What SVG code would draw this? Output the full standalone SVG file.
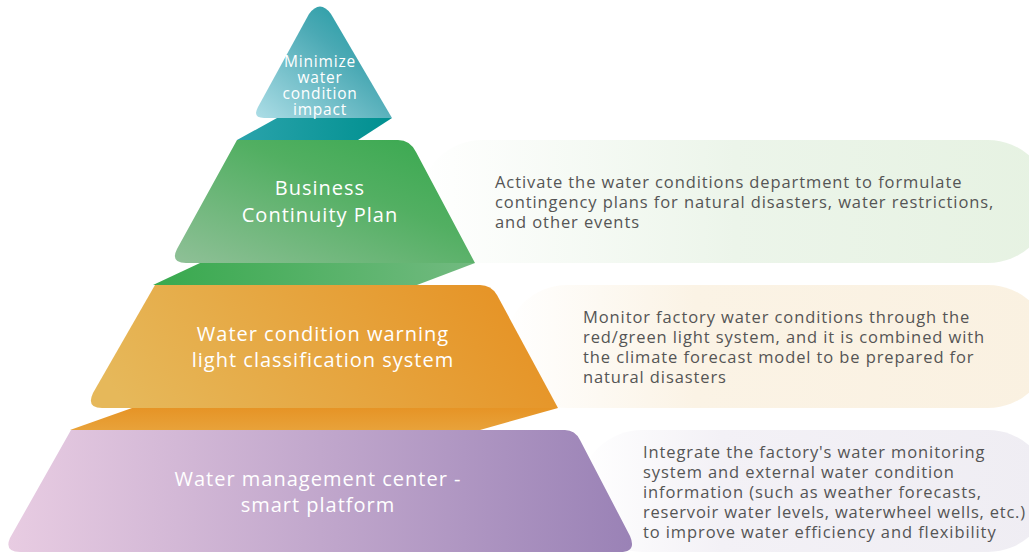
<svg xmlns="http://www.w3.org/2000/svg" width="1029" height="552" viewBox="0 0 1029 552">
<defs>
<linearGradient id="gTeal" x1="0" y1="1" x2="1" y2="0"><stop offset="0" stop-color="#acdde6"/><stop offset="0.6" stop-color="#4aa9b4"/><stop offset="1" stop-color="#11959c"/></linearGradient>
<linearGradient id="gTealS" x1="0" y1="0" x2="1" y2="0"><stop offset="0" stop-color="#2aa3ab"/><stop offset="1" stop-color="#009090"/></linearGradient>
<linearGradient id="gGreen" x1="0" y1="1" x2="1" y2="0"><stop offset="0" stop-color="#8fc097"/><stop offset="0.6" stop-color="#52af62"/><stop offset="1" stop-color="#36a84d"/></linearGradient>
<linearGradient id="gGreenS" x1="0" y1="0" x2="1" y2="0"><stop offset="0" stop-color="#38a94e"/><stop offset="1" stop-color="#72ba80"/></linearGradient>
<linearGradient id="gOrange" x1="0" y1="0.6" x2="1" y2="0.4"><stop offset="0" stop-color="#e6b85a"/><stop offset="1" stop-color="#e69224"/></linearGradient>
<linearGradient id="gOrangeS" x1="0" y1="0" x2="0" y2="1"><stop offset="0" stop-color="#e69426"/><stop offset="1" stop-color="#e8a23a"/></linearGradient>
<linearGradient id="gPurple" x1="0" y1="0" x2="1" y2="0"><stop offset="0" stop-color="#e8cce2"/><stop offset="1" stop-color="#9a82b6"/></linearGradient>
<linearGradient id="bGreen" x1="0" y1="0" x2="1" y2="0"><stop offset="0" stop-color="#ffffff"/><stop offset="0.5" stop-color="#ecf5ea"/><stop offset="1" stop-color="#e6f2e2"/></linearGradient>
<linearGradient id="bOrange" x1="0" y1="0" x2="1" y2="0"><stop offset="0" stop-color="#ffffff"/><stop offset="0.35" stop-color="#fbf3e5"/><stop offset="1" stop-color="#faf1e1"/></linearGradient>
<linearGradient id="bPurple" x1="0" y1="0" x2="1" y2="0"><stop offset="0" stop-color="#ffffff"/><stop offset="0.3" stop-color="#f3f1f6"/><stop offset="1" stop-color="#efedf3"/></linearGradient>
</defs>
<style>
.lbl{font-family:"Open Sans","Noto Sans",sans-serif;fill:#ffffff;text-anchor:middle;font-size:20px;letter-spacing:1px}
.top{font-family:"Open Sans","Noto Sans",sans-serif;fill:#ffffff;text-anchor:middle;font-size:15.5px;letter-spacing:0.8px}
.desc{font-family:"Open Sans","Noto Sans",sans-serif;fill:#555555;font-size:16.5px;letter-spacing:0.9px}
</style>
<rect width="1029" height="552" fill="#ffffff"/>
<g id="bands">
<rect x="420" y="140" width="630" height="123" rx="62" fill="url(#bGreen)"/>
<rect x="505" y="285" width="545" height="123" rx="62" fill="url(#bOrange)"/>
<rect x="580" y="430" width="470" height="122" rx="62" fill="url(#bPurple)"/>
</g>
<g id="shadows">
<polygon points="277,118 392,118 358,140 237,140" fill="url(#gTealS)"/>
<polygon points="200,263 475,263 417,285 153,285" fill="url(#gGreenS)"/>
<polygon points="132,408 558,408 480,430 70,430" fill="url(#gOrangeS)"/>
</g>
<g id="n-top">
<path d="M309,14 Q320,-1 331,14 L392,118 L264,118 Q252,118 258,107 Z" fill="url(#gTeal)"/>
<text class="top" x="320" y="67">Minimize</text>
<text class="top" x="320" y="83">water</text>
<text class="top" x="320" y="99">condition</text>
<text class="top" x="320" y="115">impact</text>
</g>
<g id="n-green">
<path d="M237,140 L398,140 Q410,140 416,152 L475,263 L186,263 Q170,263 177,249 Z" fill="url(#gGreen)"/>
<text class="lbl" x="320" y="195">Business</text>
<text class="lbl" x="320" y="222">Continuity Plan</text>
<text class="desc" x="495" y="188">Activate the water conditions department to formulate</text>
<text class="desc" x="495" y="208">contingency plans for natural disasters, water restrictions,</text>
<text class="desc" x="495" y="228">and other events</text>
</g>
<g id="n-orange">
<path d="M155,285 L480,285 Q491,285 497,295 L558,408 L102,408 Q86,408 93,393 Z" fill="url(#gOrange)"/>
<text class="lbl" x="323" y="341">Water condition warning</text>
<text class="lbl" x="323" y="367">light classification system</text>
<text class="desc" x="583" y="323">Monitor factory water conditions through the</text>
<text class="desc" x="583" y="343">red/green light system, and it is combined with</text>
<text class="desc" x="583" y="363">the climate forecast model to be prepared for</text>
<text class="desc" x="583" y="383">natural disasters</text>
</g>
<g id="n-purple">
<path d="M71,430 L565,430 Q575,430 580,440 L630,536 Q637,552 620,552 L20,552 Q4,552 10,538 Z" fill="url(#gPurple)"/>
<text class="lbl" x="318" y="486">Water management center -</text>
<text class="lbl" x="318" y="512">smart platform</text>
<text class="desc" x="643" y="458">Integrate the factory's water monitoring</text>
<text class="desc" x="643" y="478">system and external water condition</text>
<text class="desc" x="643" y="498">information (such as weather forecasts,</text>
<text class="desc" x="643" y="518" textLength="383" lengthAdjust="spacing">reservoir water levels, waterwheel wells, etc.)</text>
<text class="desc" x="643" y="538">to improve water efficiency and flexibility</text>
</g>
</svg>
